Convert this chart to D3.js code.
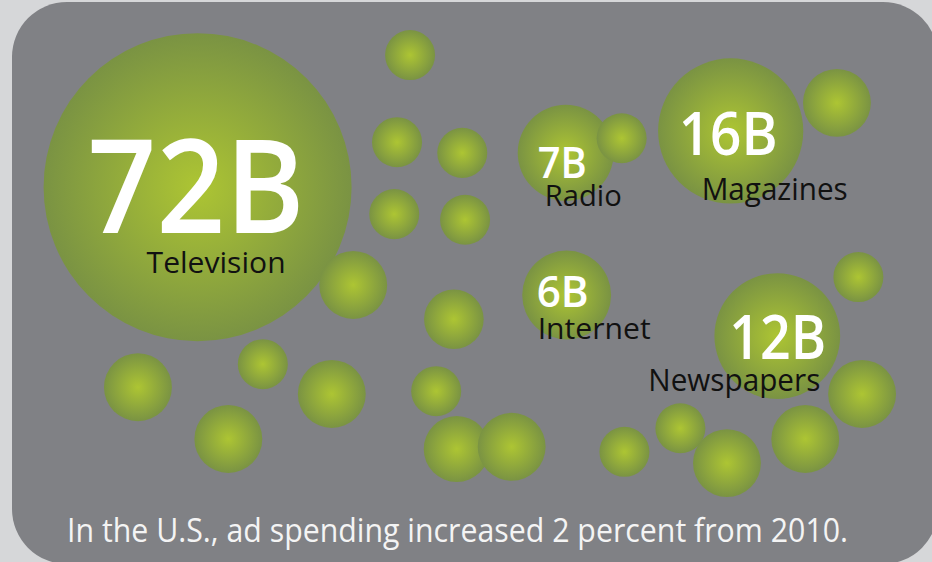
<!DOCTYPE html>
<html>
  <head>
    <meta charset="UTF-8">
    <style>
      html, body { margin: 0; padding: 0; background: #d6d7d9; }
      svg { display: block; }
      text { font-family: "Open Sans", "Noto Sans", sans-serif; }
    </style>
  </head>
  <body>
    <script src="https://d3js.org/d3.v7.min.js"></script>
    <script>

var width = 932;
var height = 562;

// ad spending by medium (billions of dollars)
var categories = ["Television", "Radio", "Magazines", "Internet", "Newspapers"];
var values     = [72, 7, 16, 6, 12];
var valueLabels = ["72B", "7B", "16B", "6B", "12B"];
// bubble centres, in percent of the panel
var catX = [21.2, 60.7, 78.4, 60.8, 83.4];
var catY = [33.3, 27.2, 23.3, 52.5, 59.8];

// decorative bubbles (x %, y %, size in the same units as the values)
var dotX    = [44.0, 42.6, 49.6, 42.3, 49.9, 37.9, 48.7, 14.8, 28.2, 35.6, 24.5,
               46.8, 49.0, 54.9, 67.0, 73.0, 78.0, 86.4, 92.5, 92.1, 66.7, 89.8];
var dotY    = [ 9.8, 25.3, 27.2, 38.1, 39.1, 50.7, 56.8, 68.9, 64.8, 70.1, 78.1,
               69.6, 79.9, 79.5, 80.4, 76.2, 82.4, 78.1, 70.1, 49.3, 24.6, 18.3];
var dotSize = [1.9, 1.9, 1.9, 1.9, 1.9, 3.5, 2.7, 3.5, 1.9, 3.5, 3.5,
               1.9, 3.3, 3.5, 1.9, 1.9, 3.5, 3.5, 3.5, 1.9, 1.9, 3.5];

var footnote = "In the U.S., ad spending increased 2 percent from 2010.";

var svg = d3.select("body").append("svg")
    .attr("width", width).attr("height", height);

// scales
var x = d3.scaleLinear().domain([0, 100]).range([0, width]);
var y = d3.scaleLinear().domain([0, 100]).range([0, height]);
var r = d3.scaleSqrt().domain([0, 72]).range([0, 154]);

// ball shading
var grad = svg.append("defs").append("radialGradient")
    .attr("id", "ball")
    .attr("cx", "50%").attr("cy", "50%").attr("r", "50%");
grad.append("stop").attr("offset", "0%").attr("stop-color", "#adc533");
grad.append("stop").attr("offset", "100%").attr("stop-color", "#7a9343");

// grey panel
svg.append("rect")
    .attr("x", 12).attr("y", 2)
    .attr("width", 926).attr("height", 562)
    .attr("rx", 55).attr("ry", 55)
    .attr("fill", "#808185");

var cats = categories.map(function(c, i) {
    return { name: c, value: values[i], label: valueLabels[i], x: catX[i], y: catY[i] };
});
var dots = dotX.map(function(d, i) {
    return { x: d, y: dotY[i], value: dotSize[i] };
});

svg.append("g").selectAll("circle")
    .data(cats)
    .join("circle")
    .attr("cx", function(d) { return x(d.x); })
    .attr("cy", function(d) { return y(d.y); })
    .attr("r", function(d) { return r(d.value); })
    .attr("fill", "url(#ball)");

svg.append("g").selectAll("circle")
    .data(dots)
    .join("circle")
    .attr("cx", function(d) { return x(d.x); })
    .attr("cy", function(d) { return y(d.y); })
    .attr("r", function(d) { return r(d.value); })
    .attr("fill", "url(#ball)");

// label placement relative to each bubble centre:
// [value dx, value dy, value size, value width, name dx, name dy, name size, name width]
var labelPos = {
    "Television": [-110, 46, 130, 217, -51, 86, 30, 139],
    "Radio":      [-28, 25, 43, 49, -21, 53, 30, 77],
    "Magazines":  [-52, 24, 60, 99, -29, 69, 31, 146],
    "Internet":   [-30, 12, 43, 52, -29, 44, 30, 113],
    "Newspapers": [-48, 23, 62, 97, -129, 55, 31, 172]
};

var labels = svg.append("g").selectAll("g")
    .data(cats)
    .join("g")
    .attr("transform", function(d) { return "translate(" + x(d.x) + "," + y(d.y) + ")"; });

labels.append("text")
    .attr("x", function(d) { return labelPos[d.name][0]; })
    .attr("y", function(d) { return labelPos[d.name][1]; })
    .attr("font-size", function(d) { return labelPos[d.name][2]; })
    .attr("textLength", function(d) { return labelPos[d.name][3]; })
    .attr("lengthAdjust", "spacingAndGlyphs")
    .attr("font-weight", 600)
    .attr("fill", "#ffffff")
    .text(function(d) { return d.label; });

labels.append("text")
    .attr("x", function(d) { return labelPos[d.name][4]; })
    .attr("y", function(d) { return labelPos[d.name][5]; })
    .attr("font-size", function(d) { return labelPos[d.name][6]; })
    .attr("textLength", function(d) { return labelPos[d.name][7]; })
    .attr("lengthAdjust", "spacingAndGlyphs")
    .attr("fill", "#111111")
    .text(function(d) { return d.name; });

svg.append("text")
    .attr("x", 67).attr("y", 542)
    .attr("font-size", 32)
    .attr("textLength", 781)
    .attr("lengthAdjust", "spacingAndGlyphs")
    .attr("fill", "#f4f4f4")
    .text(footnote);

    </script>
  </body>
</html>
